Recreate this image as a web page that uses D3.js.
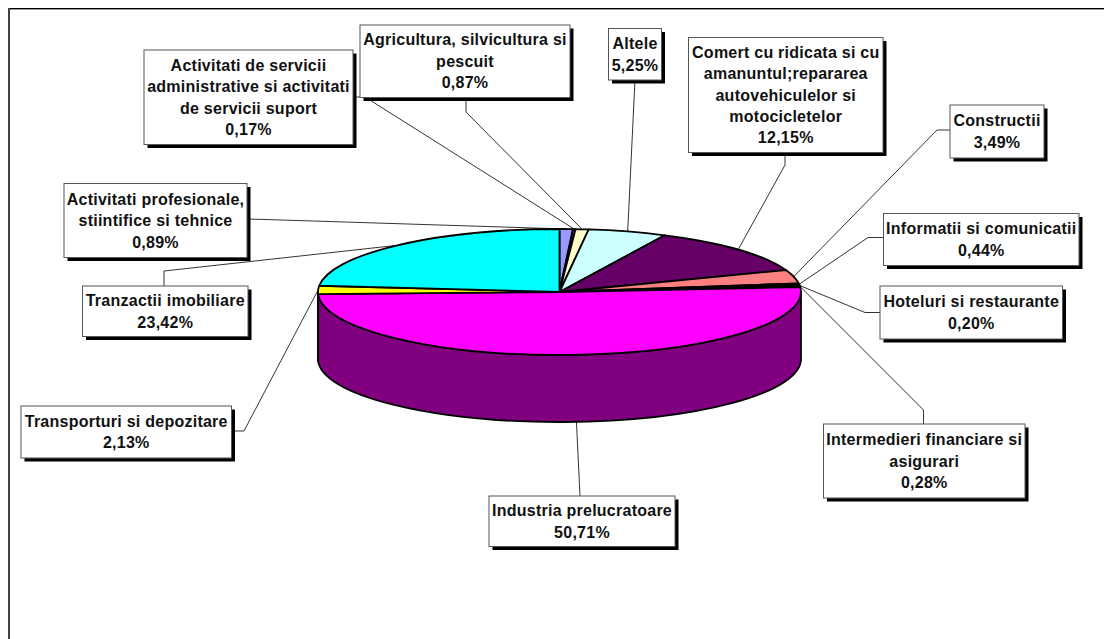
<!DOCTYPE html>
<html><head><meta charset="utf-8">
<script src="https://cdn.jsdelivr.net/npm/d3@7/dist/d3.min.js"></script>
<style>html,body{margin:0;padding:0;background:#fff;overflow:hidden}svg{display:block}</style>
</head><body><svg id="c" width="1104" height="639"></svg>
<script>
// Data, clockwise from 12 o'clock
const sectors = ["Activitati profesionale, stiintifice si tehnice","Activitati de servicii administrative si activitati de servicii suport","Agricultura, silvicultura si pescuit","Altele","Comert cu ridicata si cu amanuntul;repararea autovehiculelor si motocicletelor","Constructii","Informatii si comunicatii","Hoteluri si restaurante","Intermedieri financiare si asigurari","Industria prelucratoare","Transporturi si depozitare","Tranzactii imobiliare"];
const shares = [0.89,0.17,0.87,5.25,12.15,3.49,0.44,0.20,0.28,50.71,2.13,23.42];
const shareLabels = ["0,89%","0,17%","0,87%","5,25%","12,15%","3,49%","0,44%","0,20%","0,28%","50,71%","2,13%","23,42%"];
const labelLines = [
 ["Activitati profesionale,","stiintifice si tehnice"],
 ["Activitati de servicii","administrative si activitati","de servicii suport"],
 ["Agricultura, silvicultura si","pescuit"],
 ["Altele"],
 ["Comert cu ridicata si cu","amanuntul;repararea","autovehiculelor si","motocicletelor"],
 ["Constructii"],
 ["Informatii si comunicatii"],
 ["Hoteluri si restaurante"],
 ["Intermedieri financiare si","asigurari"],
 ["Industria prelucratoare"],
 ["Transporturi si depozitare"],
 ["Tranzactii imobiliare"]
];
const topColors = ["#9999FF","#993366","#FFFFCC","#CCFFFF","#660066","#FF8080","#0066CC","#CCCCFF","#000080","#FF00FF","#FFFF00","#00FFFF"];

// Layout: label boxes [x0,y0,x1,y1] and leader-line waypoints
const boxes = [[64,183.5,247,257.5],[144,50,353,144.5],[360,25,570,97.5],[608.5,28.5,661.5,80],[688.5,37.5,883,152.5],[950,105,1044,158],[883.5,213.5,1079,265.5],[880,286,1062.5,339],[823.5,424,1025,498],[489,496,675,546.5],[21,406,231.5,458],[82.5,286,248,336.5]];
const leaders = [[[247,219],[262,219.4]],[[353,97],[365,97]],[[466,97],[466,112]],[[635,80]],[[785,152],[785,165]],[[950,130],[937,130]],[[883,237.5],[868,237.5]],[[880,312.5],[865,312.5]],[[923.5,424],[923.5,410]],[[580,496]],[[231,431],[244,431]],[[164,286],[164,271]]];

const W=1104,H=639,cx=559.5,cy=292,rx=241.5,ry=63,depth=67,FS=16,LH=21.4;
const svg=d3.select("#c");
svg.append("rect").attr("width",W).attr("height",H).attr("fill","#fff");
// frame (only top and left edges fall inside the picture)
svg.append("rect").attr("x",8).attr("y",9).attr("width",W-8).attr("height",1).attr("fill","#999");
svg.append("rect").attr("x",8).attr("y",8).attr("width",W-8).attr("height",1).attr("fill","#000");
svg.append("rect").attr("x",8).attr("y",8).attr("width",2).attr("height",H-8).attr("fill","#404040");

const slices=d3.pie().sort(null).value(d=>d)(shares);
const px=a=>cx+rx*Math.sin(a), py=a=>cy-ry*Math.cos(a);
const mid=s=>(s.startAngle+s.endAngle)/2;

// leader lines go behind everything
const line=d3.line();
svg.append("g").selectAll("path").data(slices).join("path")
  .attr("d",(s,i)=>line([...leaders[i],[px(mid(s)),py(mid(s))]]))
  .attr("fill","none").attr("stroke","#333").attr("stroke-width",1);

// side wall: visible for the front half only
const sideColor=c=>{const k=d3.rgb(c);return d3.rgb(k.r/2,k.g/2,k.b/2).formatHex();};
const side=svg.append("g");
slices.forEach((s,i)=>{
  const a0=Math.max(s.startAngle,Math.PI/2),a1=Math.min(s.endAngle,3*Math.PI/2);
  if(a1<=a0)return;
  const d=`M${px(a0)},${py(a0)}A${rx},${ry} 0 0 1 ${px(a1)},${py(a1)}L${px(a1)},${py(a1)+depth}A${rx},${ry} 0 0 0 ${px(a0)},${py(a0)+depth}Z`;
  side.append("path").attr("d",d).attr("fill",sideColor(topColors[i])).attr("stroke","#000").attr("stroke-width",1.8).attr("stroke-linejoin","round");
});
// top face
const arc=d3.arc().innerRadius(0).outerRadius(rx);
svg.append("g").attr("transform",`translate(${cx},${cy}) scale(1,${ry/rx})`)
  .selectAll("path").data(slices).join("path").attr("d",arc)
  .attr("fill",(s,i)=>topColors[i]).attr("stroke","#000").attr("stroke-width",1.8)
  .attr("vector-effect","non-scaling-stroke").attr("stroke-linejoin","round");

// labels
const lab=svg.append("g").selectAll("g").data(sectors).join("g");
lab.append("rect").attr("x",(d,i)=>boxes[i][0]+3.5).attr("y",(d,i)=>boxes[i][1]+3.5)
  .attr("width",(d,i)=>boxes[i][2]-boxes[i][0]).attr("height",(d,i)=>boxes[i][3]-boxes[i][1]).attr("fill","#000");
lab.append("rect").attr("x",(d,i)=>boxes[i][0]).attr("y",(d,i)=>boxes[i][1])
  .attr("width",(d,i)=>boxes[i][2]-boxes[i][0]).attr("height",(d,i)=>boxes[i][3]-boxes[i][1])
  .attr("fill","#fff").attr("stroke","#555").attr("stroke-width",1);
lab.each(function(d,i){
  const ls=[...labelLines[i],shareLabels[i]];
  const mx=(boxes[i][0]+boxes[i][2])/2,my=(boxes[i][1]+boxes[i][3])/2;
  d3.select(this).selectAll("text").data(ls).join("text")
    .attr("x",mx).attr("y",(t,k)=>my+(k-(ls.length-1)/2)*LH+FS*0.35)
    .attr("text-anchor","middle").attr("font-family","'Liberation Sans',Arial,sans-serif")
    .attr("font-weight","bold").attr("font-size",FS).attr("letter-spacing",0.25).attr("fill","#111").text(t=>t);
});
</script></body></html>
